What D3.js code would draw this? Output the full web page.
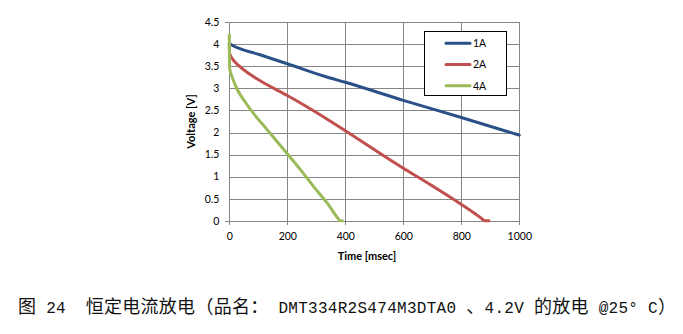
<!DOCTYPE html>
<html><head><meta charset="utf-8">
<script src="https://cdn.jsdelivr.net/npm/d3@7"></script>
<style>body{margin:0;background:#fff}svg{display:block}</style>
</head><body><svg id="c" width="683" height="334"></svg>
<script>
const xTicks = [0, 200, 400, 600, 800, 1000];
const yTicks = [0, 0.5, 1, 1.5, 2, 2.5, 3, 3.5, 4, 4.5];
const seriesNames = ["1A", "2A", "4A"];
const seriesColors = ["#2A5087", "#C0504D", "#9BBB59"];
const t1A = [0, 10, 103, 200, 331, 400, 600, 800, 1000];
const v1A = [4.02, 3.98, 3.77, 3.56, 3.27, 3.14, 2.73, 2.34, 1.94];
const t2A = [0, 1, 10, 34, 80, 126, 200, 331, 400, 600, 700, 800, 870, 880, 895];
const v2A = [4.0, 3.8, 3.68, 3.51, 3.28, 3.10, 2.84, 2.33, 2.04, 1.19, 0.79, 0.37, 0.05, 0, 0];
const t4A = [0, 1, 11, 28, 57, 92, 126, 160, 200, 250, 295, 340, 375, 382, 390];
const v4A = [4.22, 3.46, 3.24, 2.97, 2.67, 2.36, 2.10, 1.83, 1.52, 1.12, 0.74, 0.38, 0.05, 0, 0];
const xTitle = "Time [msec]";
const yTitle = "Voltage [V]";
const caption = "图 24  恒定电流放电（品名： DMT334R2S474M3DTA0 、4.2V 的放电 @25° C）";

const svg = d3.select("#c");
const L = 229.3, R = 519.3, T = 22.3, B = 220.7;
const x = d3.scaleLinear().domain([0, 1000]).range([L, R]);
const y = d3.scaleLinear().domain([0, 4.5]).range([B, T]);
const grid = "#868686";
const tickFont = "Lato, 'Open Sans', sans-serif";

const gy = svg.append("g").attr("transform", `translate(${L},0)`)
  .call(d3.axisLeft(y).tickValues(yTicks).tickSize(4).tickFormat(d => String(d)));
gy.select(".domain").attr("stroke", grid);
gy.selectAll(".tick line").attr("stroke", grid).attr("x2", R - L);
gy.selectAll(".tick text").attr("font-family", tickFont).attr("font-size", "10.5px")
  .attr("fill", "#000").attr("x", -10);

const gx = svg.append("g").attr("transform", `translate(0,${B})`)
  .call(d3.axisBottom(x).tickValues(xTicks).tickSize(4).tickFormat(d => String(d)));
gx.select(".domain").attr("stroke", grid);
gx.selectAll(".tick line").attr("stroke", grid).attr("y1", -(B - T)).attr("y2", 4);
gx.selectAll(".tick text").attr("font-family", tickFont).attr("font-size", "10.5px")
  .attr("fill", "#000").attr("y", 12);
svg.selectAll(".tick line, .domain").attr("shape-rendering", "crispEdges");

svg.append("text").attr("x", 367).attr("y", 260).attr("text-anchor", "middle")
  .attr("font-family", tickFont).attr("font-weight", "bold").attr("font-size", "11px").text(xTitle);
svg.append("text").attr("transform", "translate(195,121.5) rotate(-90)").attr("text-anchor", "middle")
  .attr("font-family", tickFont).attr("font-weight", "bold").attr("font-size", "11px").text(yTitle);

const series = [[t1A, v1A], [t2A, v2A], [t4A, v4A]];
const line = d3.line().x(d => x(d[0])).y(d => y(d[1])).curve(d3.curveMonotoneX);
series.forEach((s, i) => {
  const pts = s[0].map((t, j) => [t, s[1][j]]);
  svg.append("path").datum(pts).attr("d", line).attr("fill", "none")
    .attr("stroke", seriesColors[i]).attr("stroke-width", 3)
    .attr("stroke-linejoin", "round").attr("stroke-linecap", "round");
});

const lg = svg.append("g");
lg.append("rect").attr("x", 424.5).attr("y", 31.5).attr("width", 82).attr("height", 64)
  .attr("fill", "#fff").attr("stroke", "#000").attr("stroke-width", 1);
seriesNames.forEach((n, i) => {
  const yy = 43.3 + i * 21.2;
  lg.append("line").attr("x1", 446).attr("x2", 470).attr("y1", yy).attr("y2", yy)
    .attr("stroke", seriesColors[i]).attr("stroke-width", 3).attr("stroke-linecap", "round");
  lg.append("text").attr("x", 473).attr("y", yy + 3.8).attr("font-family", tickFont)
    .attr("font-size", "10.5px").text(n);
});

const cap = svg.append("text").attr("x", 18).attr("y", 313)
  .attr("textLength", 658).attr("lengthAdjust", "spacing").attr("fill", "#111");
const parts = caption.match(/[\x20-\x7E°]+|[^\x20-\x7E°]+/g);
parts.forEach(p => {
  const ascii = /^[\x20-\x7E°]+$/.test(p);
  cap.append("tspan")
    .attr("font-family", ascii ? "'Liberation Mono', monospace" : "'Noto Sans CJK SC', sans-serif")
    .attr("font-size", ascii ? "16px" : "18px")
    .style("white-space", "pre").text(p);
});
</script></body></html>
